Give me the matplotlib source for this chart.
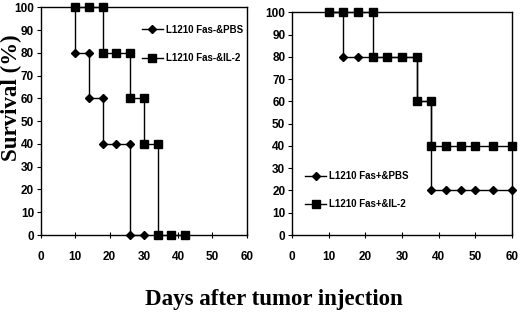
import matplotlib
matplotlib.use("Agg")
import matplotlib.pyplot as plt
from matplotlib.lines import Line2D

# Left panel (Fas-)
left_pbs_days = [10, 10, 14, 14, 18, 18, 22, 26, 26, 30]
left_pbs_surv = [100, 80, 80, 60, 60, 40, 40, 40, 0, 0]
left_il2_days = [10, 14, 18, 18, 22, 26, 26, 30, 30, 34, 34, 38, 42]
left_il2_surv = [100, 100, 100, 80, 80, 80, 60, 60, 40, 40, 0, 0, 0]

# Right panel (Fas+)
right_pbs_days = [10, 14, 14, 18, 22, 26, 30, 34, 34, 38, 38, 42, 46, 50, 55, 60]
right_pbs_surv = [100, 100, 80, 80, 80, 80, 80, 80, 60, 60, 20, 20, 20, 20, 20, 20]
right_il2_days = [10, 14, 18, 22, 22, 26, 30, 34, 34, 38, 38, 42, 46, 50, 55, 60]
right_il2_surv = [100, 100, 100, 100, 80, 80, 80, 80, 60, 60, 40, 40, 40, 40, 40, 40]

x_ticks = [0, 10, 20, 30, 40, 50, 60]
y_ticks = [0, 10, 20, 30, 40, 50, 60, 70, 80, 90, 100]

labels_left = ["L1210 Fas-&PBS", "L1210 Fas-&IL-2"]
labels_right = ["L1210 Fas+&PBS", "L1210 Fas+&IL-2"]

W, H = 520, 313
fig = plt.figure(figsize=(W / 100, H / 100), dpi=100)
tickfont = dict(family="Liberation Sans", weight="bold", size=8.5)

axL = fig.add_axes([41 / W, 1 - 235 / H, (246.7 - 41) / W, (235 - 7.3) / H])
axR = fig.add_axes([292.3 / W, 1 - 235 / H, (511.7 - 292.3) / W, (235 - 12.3) / H])

lw = 1.0
for ax, pd_, ps_, id_, is_ in [
    (axL, left_pbs_days, left_pbs_surv, left_il2_days, left_il2_surv),
    (axR, right_pbs_days, right_pbs_surv, right_il2_days, right_il2_surv),
]:
    ax.plot(pd_, ps_, color="black", lw=lw, marker="D", ms=4, zorder=3, clip_on=False)
    ax.plot(id_, is_, color="black", lw=lw, marker="s", ms=5.5, zorder=4, clip_on=False)
    ax.set_xlim(0, 60)
    ax.set_ylim(0, 100)
    ax.set_xticks(x_ticks)
    ax.set_yticks(y_ticks)
    ax.set_xticklabels([str(v) for v in x_ticks], fontdict=tickfont)
    ax.set_yticklabels([str(v) for v in y_ticks], fontdict=tickfont)
    ax.tick_params(axis="x", direction="inout", length=5, width=0.8, pad=9, colors="black")
    ax.tick_params(axis="y", direction="out", length=3, width=0.8, pad=2, colors="black")
    for s in ax.spines.values():
        s.set_linewidth(1.0)
        s.set_color("black")

h_pbs = Line2D([], [], color="black", lw=lw, marker="D", ms=4)
h_il2 = Line2D([], [], color="black", lw=lw, marker="s", ms=5.5)

legL = axL.legend([h_pbs, h_il2], labels_left, loc="upper left",
                  bbox_to_anchor=(0.47, 0.94), frameon=False,
                  prop=dict(family="Liberation Sans", weight="bold", size=7),
                  handlelength=2.2, handletextpad=0.3, labelspacing=1.9,
                  borderaxespad=0)
legR = axR.legend([h_pbs, h_il2], labels_right, loc="upper left",
                  bbox_to_anchor=(0.04, 0.305), frameon=False,
                  prop=dict(family="Liberation Sans", weight="bold", size=7),
                  handlelength=2.2, handletextpad=0.3, labelspacing=1.9,
                  borderaxespad=0)

fig.text(11 / W, 1 - 98 / H, "Survival (%)", rotation=90, ha="center", va="center",
         family="Liberation Serif", weight="bold", size=16.5)
fig.text(274 / W, 1 - 300 / H, "Days after tumor injection", ha="center", va="center",
         family="Liberation Serif", weight="bold", size=16.5)

fig.savefig("out.png", dpi=100)
